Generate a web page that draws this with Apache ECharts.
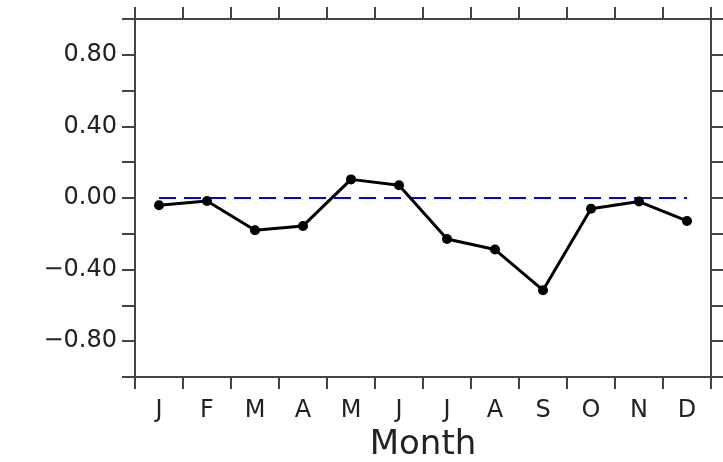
<!DOCTYPE html>
<html>
<head>
<meta charset="utf-8">
<script src="https://cdn.jsdelivr.net/npm/echarts@6/dist/echarts.min.js"></script>
<style>html,body{margin:0;padding:0;background:#fff;}#c{width:723px;height:462px;}</style>
</head>
<body>
<div id="c"></div>
<script>
var months = ['J','F','M','A','M','J','J','A','S','O','N','D'];
var values = [-0.041, -0.017, -0.180, -0.156, 0.104, 0.071, -0.229, -0.288, -0.515, -0.060, -0.020, -0.128];
var zeroLine = [0,0,0,0,0,0,0,0,0,0,0,0];
var yTickLabels = ['-0.80','-0.40','0.00','0.40','0.80'];

var frameColor = '#444';
var fontFam = 'DejaVu Sans';
var chart = echarts.init(document.getElementById('c'), null, {renderer:'canvas'});
function fmtY(v){
  var s = (Math.round(v*100)/100).toFixed(2);
  if (s === '-0.00') s = '0.00';
  if (yTickLabels.indexOf(s) < 0) return '';
  return s.replace('-', '\u2212');
}
var lineSt = {color:frameColor, width:2};
chart.setOption({
  animation:false,
  backgroundColor:'#fff',
  grid:{left:135, right:12, top:19, bottom:85, containLabel:false, outerBoundsMode:'none'},
  xAxis:[
    {
      type:'category', data:months, position:'bottom', boundaryGap:true,
      axisLine:{show:true, onZero:false, lineStyle:lineSt},
      axisTick:{show:true, inside:false, length:12, interval:0, lineStyle:lineSt},
      splitLine:{show:false},
      axisLabel:{show:true, interval:0, margin:22, fontFamily:fontFam, fontSize:24, color:'#222'},
      name:'Month', nameLocation:'middle', nameGap:50,
      nameTextStyle:{fontFamily:fontFam, fontSize:34, color:'#222'}
    },
    {
      type:'category', data:months, position:'top', boundaryGap:true,
      axisLine:{show:true, onZero:false, lineStyle:lineSt},
      axisTick:{show:true, inside:false, length:12, interval:0, lineStyle:lineSt},
      splitLine:{show:false},
      axisLabel:{show:false}
    }
  ],
  yAxis:[
    {
      type:'value', min:-1, max:1, interval:0.2, position:'left',
      axisLine:{show:true, onZero:false, lineStyle:lineSt},
      axisTick:{show:true, inside:false, length:13, lineStyle:lineSt},
      splitLine:{show:false},
      axisLabel:{show:true, margin:18, fontFamily:fontFam, fontSize:24, color:'#222', formatter:fmtY}
    },
    {
      type:'value', min:-1, max:1, interval:0.2, position:'right',
      axisLine:{show:true, onZero:false, lineStyle:lineSt},
      axisTick:{show:true, inside:false, length:13, lineStyle:lineSt},
      splitLine:{show:false},
      axisLabel:{show:false}
    }
  ],
  series:[
    {
      type:'line', data:zeroLine, xAxisIndex:0, yAxisIndex:0, symbol:'none',
      lineStyle:{color:'#0000ff', width:2, type:[17,8]}, z:1, silent:true
    },
    {
      type:'line', data:values, xAxisIndex:0, yAxisIndex:0,
      symbol:'circle', symbolSize:10,
      itemStyle:{color:'#000'},
      lineStyle:{color:'#000', width:3}, z:2
    }
  ]
});
</script>
</body>
</html>
